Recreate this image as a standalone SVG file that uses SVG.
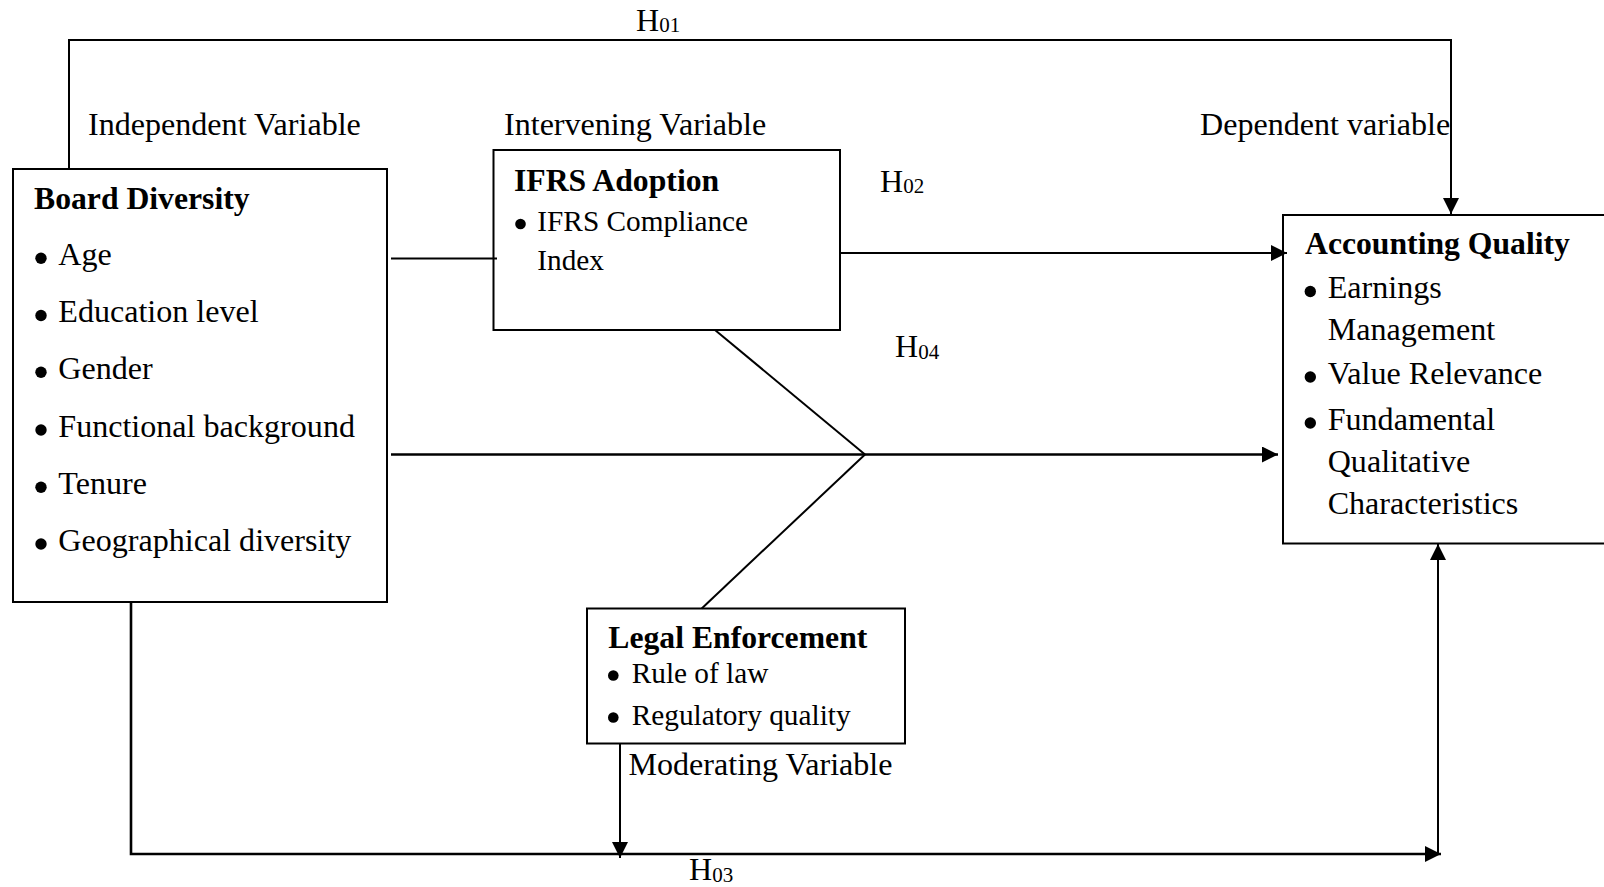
<svg xmlns="http://www.w3.org/2000/svg" width="1604" height="887" viewBox="0 0 1604 887">
<style>
  text { font-family: "Liberation Serif", "Times New Roman", serif; font-size: 32.1px; fill: #000; }
  .b { font-weight: bold; font-size: 31.7px; }
  .sm { font-size: 29.3px; }
  .sub { font-size: 21px; }
  .box { fill: #fff; stroke: #000; stroke-width: 2; }
  .ln { fill: none; stroke: #000; stroke-width: 2; }
  .thick { stroke-width: 2.6; }
  .dot { fill: #000; }
</style>
<defs>
  <marker id="ah" markerUnits="userSpaceOnUse" markerWidth="17" markerHeight="16" refX="16" refY="8" orient="auto" viewBox="0 0 17 16">
    <path d="M0,0 L16,8 L0,16 z" fill="#000"/>
  </marker>
</defs>
<rect width="1604" height="887" fill="#fff"/>

<g id="labels">
  <text x="636" y="30.7">H<tspan class="sub" dy="1.7">01</tspan></text>
  <text x="880" y="191.7">H<tspan class="sub" dy="1.7">02</tspan></text>
  <text x="895" y="357">H<tspan class="sub" dy="1.7">04</tspan></text>
  <text x="689" y="880">H<tspan class="sub" dy="1.7">03</tspan></text>
  <text x="88" y="135">Independent Variable</text>
  <text x="504" y="135">Intervening Variable</text>
  <text x="1200" y="135">Dependent variable</text>
  <text x="628.5" y="775">Moderating Variable</text>
</g>

<g id="board-diversity">
  <rect class="box" x="13" y="169" width="374" height="433"/>
  <text class="b" x="34" y="209">Board Diversity</text>
  <circle class="dot" cx="41" cy="258.3" r="5.7"/>
  <text x="58.3" y="265">Age</text>
  <circle class="dot" cx="41" cy="315.5" r="5.7"/>
  <text x="58.3" y="322.3">Education level</text>
  <circle class="dot" cx="41" cy="372.3" r="5.7"/>
  <text x="58.3" y="379">Gender</text>
  <circle class="dot" cx="41" cy="430" r="5.7"/>
  <text x="58.3" y="436.7">Functional background</text>
  <circle class="dot" cx="41" cy="487.3" r="5.7"/>
  <text x="58.3" y="494">Tenure</text>
  <circle class="dot" cx="41" cy="544" r="5.7"/>
  <text x="58.3" y="550.7">Geographical diversity</text>
</g>

<g id="ifrs-adoption">
  <rect class="box" x="493.5" y="150" width="346.5" height="180"/>
  <text class="b" x="514" y="190.7">IFRS Adoption</text>
  <circle class="dot" cx="520.5" cy="224" r="5.3"/>
  <text class="sm" x="537.3" y="230.7">IFRS Compliance</text>
  <text class="sm" x="537.3" y="270">Index</text>
</g>

<g id="legal-enforcement">
  <rect class="box" x="587" y="608.5" width="318" height="135"/>
  <text class="b" x="608.3" y="648.3">Legal Enforcement</text>
  <circle class="dot" cx="613.3" cy="675.5" r="5.3"/>
  <text class="sm" x="631.7" y="682.7">Rule of law</text>
  <circle class="dot" cx="613.3" cy="717.5" r="5.3"/>
  <text class="sm" x="631.7" y="724.5">Regulatory quality</text>
</g>

<g id="accounting-quality">
  <rect class="box" x="1283" y="215" width="340" height="328.5"/>
  <text class="b" x="1305" y="254">Accounting Quality</text>
  <circle class="dot" cx="1310.3" cy="291.5" r="5.7"/>
  <text x="1327.7" y="298.3">Earnings</text>
  <text x="1327.7" y="340">Management</text>
  <circle class="dot" cx="1310.3" cy="377" r="5.7"/>
  <text x="1327.7" y="384">Value Relevance</text>
  <circle class="dot" cx="1310.3" cy="423" r="5.7"/>
  <text x="1327.7" y="430">Fundamental</text>
  <text x="1327.7" y="471.7">Qualitative</text>
  <text x="1327.7" y="514.3">Characteristics</text>
</g>

<g id="connectors">
  <path class="ln" d="M69,169 V40 H1451 V214" marker-end="url(#ah)"/>
  <line class="ln" x1="840" y1="253" x2="1287" y2="253" marker-end="url(#ah)"/>
  <line class="ln" x1="391" y1="258.5" x2="497" y2="258.5"/>
  <line class="ln thick" x1="391" y1="454.5" x2="1278" y2="454.5" marker-end="url(#ah)"/>
  <line class="ln" x1="715" y1="330" x2="865" y2="454.5"/>
  <line class="ln" x1="865" y1="454.5" x2="701.7" y2="608.5"/>
  <path class="ln thick" d="M131,602 V854 H1441" marker-end="url(#ah)"/>
  <line class="ln" x1="1438" y1="854" x2="1438" y2="544" marker-end="url(#ah)"/>
  <line class="ln" x1="620" y1="743.5" x2="620" y2="858" marker-end="url(#ah)"/>
</g>
</svg>
